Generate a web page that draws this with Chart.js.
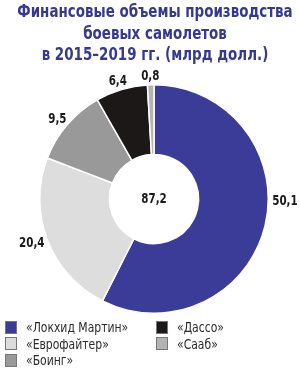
<!DOCTYPE html>
<html>
<head>
<meta charset="utf-8">
<script src="https://cdn.jsdelivr.net/npm/chart.js@4.4.1/dist/chart.umd.min.js"></script>
<style>
  body { margin: 0; background: #fff; }
  #wrap { position: relative; width: 300px; height: 369px; }
  #legend {
    position: absolute; left: 5px; top: 319px; width: 295px;
    display: grid; grid-template-columns: 151px 1fr; grid-template-rows: repeat(3, 16.5px);
    grid-auto-flow: column;
    font-family: "Liberation Sans Narrow", "DejaVu Sans Condensed", sans-serif;
    font-size: 14px; color: #2b2b2b;
  }
  .item { display: flex; align-items: center; white-space: nowrap; }
  .box { width: 12px; height: 13px; margin-right: 9px; border: 1px solid #777; box-sizing: border-box; flex: none; }
  .name { display: inline-block; transform: scaleX(0.86); transform-origin: left center; }
</style>
</head>
<body>
<div id="wrap">
  <canvas id="chart" width="300" height="369"></canvas>
  <div id="legend"></div>
</div>
<script>
const titleLines = ['Финансовые объемы производства', 'боевых самолетов', 'в 2015–2019 гг. (млрд долл.)'];
const companies = ['«Локхид Мартин»', '«Еврофайтер»', '«Боинг»', '«Дассо»', '«Сааб»'];
const volumes = [50.1, 20.4, 9.5, 6.4, 0.8];
const sliceColors = ['#3a3c98', '#dddddd', '#999999', '#1c1818', '#b3b3b3'];

const FONT = '"Liberation Sans Narrow", "DejaVu Sans Condensed", sans-serif';
const total = volumes.reduce((a, b) => a + b, 0);
function fmt(v) { return v.toFixed(1).replace('.', ','); }

// сжатый по горизонтали текст
function squeezedText(ctx, txt, x, y, k) {
  ctx.save();
  ctx.translate(x, y);
  ctx.scale(k, 1);
  ctx.fillText(txt, 0, 0);
  ctx.restore();
}

// заголовок: узкий жирный шрифт
const condensedTitle = {
  id: 'condensedTitle',
  afterDraw(chart, args, opts) {
    const ctx = chart.ctx;
    ctx.save();
    ctx.font = 'bold 17px ' + FONT;
    ctx.fillStyle = opts.color;
    ctx.textAlign = 'center';
    ctx.textBaseline = 'alphabetic';
    titleLines.forEach((line, i) => {
      squeezedText(ctx, line, opts.x, opts.firstBaseline + i * opts.lineStep, opts.squeeze);
    });
    ctx.restore();
  }
};

// подписи значений снаружи кольца + сумма в центре
const sliceLabels = {
  id: 'sliceLabels',
  afterDatasetsDraw(chart, args, opts) {
    const ctx = chart.ctx;
    const meta = chart.getDatasetMeta(0);
    ctx.save();
    ctx.font = 'bold 14px ' + FONT;
    ctx.fillStyle = '#1a1a1a';
    ctx.textAlign = 'center';
    ctx.textBaseline = 'middle';
    meta.data.forEach((arc, i) => {
      const p = arc.getProps(['x', 'y', 'startAngle', 'endAngle', 'outerRadius'], true);
      const a = p.startAngle + (p.endAngle - p.startAngle) * opts.anchor[i];
      const txt = fmt(volumes[i]);
      const w = ctx.measureText(txt).width * opts.squeeze;
      const r = p.outerRadius + opts.pad;
      const x = p.x + Math.cos(a) * (r + w / 2 + 1);
      const y = p.y + Math.sin(a) * (r + 5);
      squeezedText(ctx, txt, x, y, opts.squeeze);
    });
    squeezedText(ctx, fmt(total), meta.data[0].x, meta.data[0].y, opts.squeeze);
    ctx.restore();
  }
};

new Chart(document.getElementById('chart'), {
  type: 'doughnut',
  data: {
    labels: companies,
    datasets: [{
      data: volumes,
      backgroundColor: sliceColors,
      borderColor: '#ffffff',
      borderWidth: 1.5
    }]
  },
  options: {
    responsive: false,
    animation: false,
    cutout: '39%',
    layout: { padding: { left: 8, right: 0, bottom: 55, top: 84 } },
    plugins: {
      legend: { display: false },
      tooltip: { enabled: false },
      title: { display: false },
      condensedTitle: { color: '#363a8e', x: 155, squeeze: 0.88, firstBaseline: 17, lineStep: 21.5 },
      sliceLabels: { anchor: [0.44, 0.5, 0.5, 0.5, 0.5], pad: 3, squeeze: 0.82 }
    }
  },
  plugins: [condensedTitle, sliceLabels]
});

// легенда в две колонки
const legend = document.getElementById('legend');
companies.forEach((name, i) => {
  const item = document.createElement('div');
  item.className = 'item';
  item.innerHTML = '<span class="box" style="background:' + sliceColors[i] + '"></span><span class="name">' + name + '</span>';
  legend.appendChild(item);
});
</script>
</body>
</html>
